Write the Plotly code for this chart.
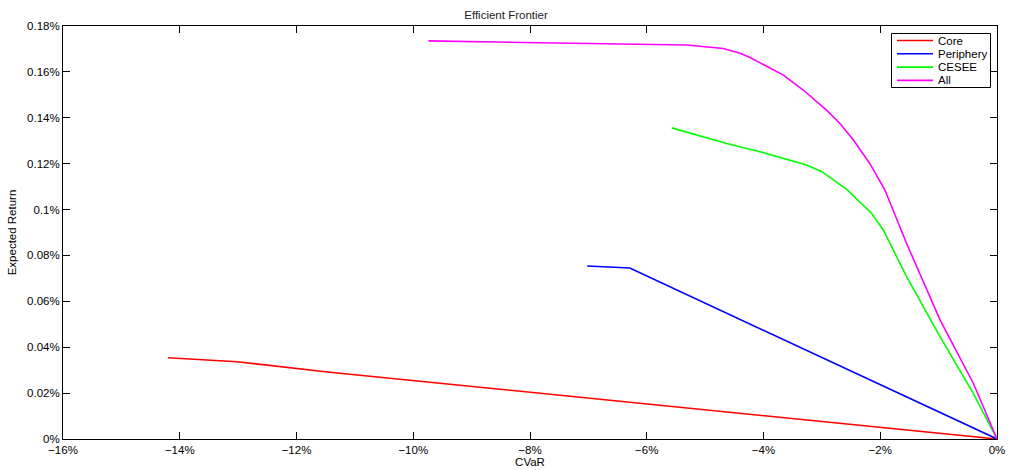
import plotly.graph_objects as go

# Data (CVaR in %, Expected Return in %)
core_x = [-14.2, -13.02, -11.43, -8.0, -4.0, 0.0]
core_y = [0.0354, 0.0337, 0.0291, 0.0203, 0.0102, 0.0]

periphery_x = [-7.02, -6.29, 0.0]
periphery_y = [0.0754, 0.0745, 0.0]

cesee_x = [-5.57, -4.63, -4.06, -3.26, -3.00, -2.575, -2.146, -1.948, -1.547, -0.976, -0.406, 0.0]
cesee_y = [0.1356, 0.1288, 0.1252, 0.1194, 0.1165, 0.1088, 0.0983, 0.0911, 0.0707, 0.0446, 0.0199, 0.0]

all_x = [-9.74, -5.77, -5.32, -4.69, -4.40, -4.23, -3.66, -3.32, -2.92, -2.69, -2.46, -2.18, -1.92, -1.55, -0.976, -0.406, 0.0]
all_y = [0.1735, 0.1718, 0.1717, 0.1702, 0.1681, 0.1663, 0.1586, 0.1521, 0.1433, 0.1375, 0.1303, 0.1201, 0.1085, 0.0853, 0.0519, 0.0243, 0.0]

series_names = ["Core", "Periphery", "CESEE", "All"]
series_colors = ["#ff0000", "#0000ff", "#00ff00", "#ff00ff"]

x_ticks = [-16, -14, -12, -10, -8, -6, -4, -2, 0]
x_ticktext = ["\u221216%", "\u221214%", "\u221212%", "\u221210%", "\u22128%", "\u22126%", "\u22124%", "\u22122%", "0%"]
y_ticks = [0, 0.02, 0.04, 0.06, 0.08, 0.1, 0.12, 0.14, 0.16, 0.18]
y_ticktext = ["0%", "0.02%", "0.04%", "0.06%", "0.08%", "0.1%", "0.12%", "0.14%", "0.16%", "0.18%"]

FONT = "Liberation Sans, Arial, Helvetica, sans-serif"
W, H = 1012, 470
ML, MR, MT, MB = 63, 15, 26, 31
PW, PH = W - ML - MR, H - MT - MB


def px2paper(px, py):
    return (px - ML) / PW, (H - MB - py) / PH


fig = go.Figure()
series = [(core_x, core_y), (periphery_x, periphery_y), (cesee_x, cesee_y), (all_x, all_y)]
for name, (xs, ys), col in zip(series_names, series, series_colors):
    fig.add_trace(go.Scatter(x=xs, y=ys, mode="lines", name=name,
                             line=dict(color=col, width=1.6), showlegend=False))

# Compact MATLAB-style legend box
shapes = []
annotations = []
x0, y0 = px2paper(891.5, 33.5)
x1, y1 = px2paper(990.5, 87.5)
shapes.append(dict(type="rect", xref="paper", yref="paper", x0=x0, y0=y0, x1=x1, y1=y1,
                   line=dict(color="black", width=1), fillcolor="white", layer="above"))
for i, (name, col) in enumerate(zip(series_names, series_colors)):
    ry = 40.5 + i * 13.3
    lx0, ly = px2paper(897, ry)
    lx1, _ = px2paper(933, ry)
    shapes.append(dict(type="line", xref="paper", yref="paper", x0=lx0, x1=lx1, y0=ly, y1=ly,
                       line=dict(color=col, width=1.6), layer="above"))
    tx, _ = px2paper(936, ry)
    annotations.append(dict(text=name, xref="paper", yref="paper", x=tx, y=ly,
                            xanchor="left", yanchor="middle", showarrow=False,
                            font=dict(family=FONT, size=11.5, color="black")))

axis_common = dict(showline=True, linecolor="black", linewidth=1, mirror="ticks",
                   ticks="inside", ticklen=7, tickcolor="black", tickwidth=1,
                   showgrid=False, zeroline=False,
                   tickfont=dict(family=FONT, size=11.5, color="black"))

fig.update_layout(
    width=W, height=H,
    margin=dict(l=ML, r=MR, t=MT, b=MB, autoexpand=False),
    paper_bgcolor="white", plot_bgcolor="white",
    font=dict(family=FONT, size=11.5, color="black"),
    title=dict(text="Efficient Frontier", x=0.5, xanchor="center",
               y=1 - 15 / 470, yanchor="middle", yref="container",
               font=dict(family=FONT, size=11.5, color="#222")),
    xaxis=dict(range=[-16, 0], tickvals=x_ticks, ticktext=x_ticktext,
               title=dict(text="CVaR", standoff=2, font=dict(size=11.5)),
               automargin=False, **axis_common),
    yaxis=dict(range=[0, 0.18], tickvals=y_ticks, ticktext=y_ticktext,
               title=dict(text="Expected Return", standoff=8, font=dict(size=11.5)),
               automargin=False, **axis_common),
    shapes=shapes,
    annotations=annotations,
    showlegend=False,
)

fig.write_html("out.html")
